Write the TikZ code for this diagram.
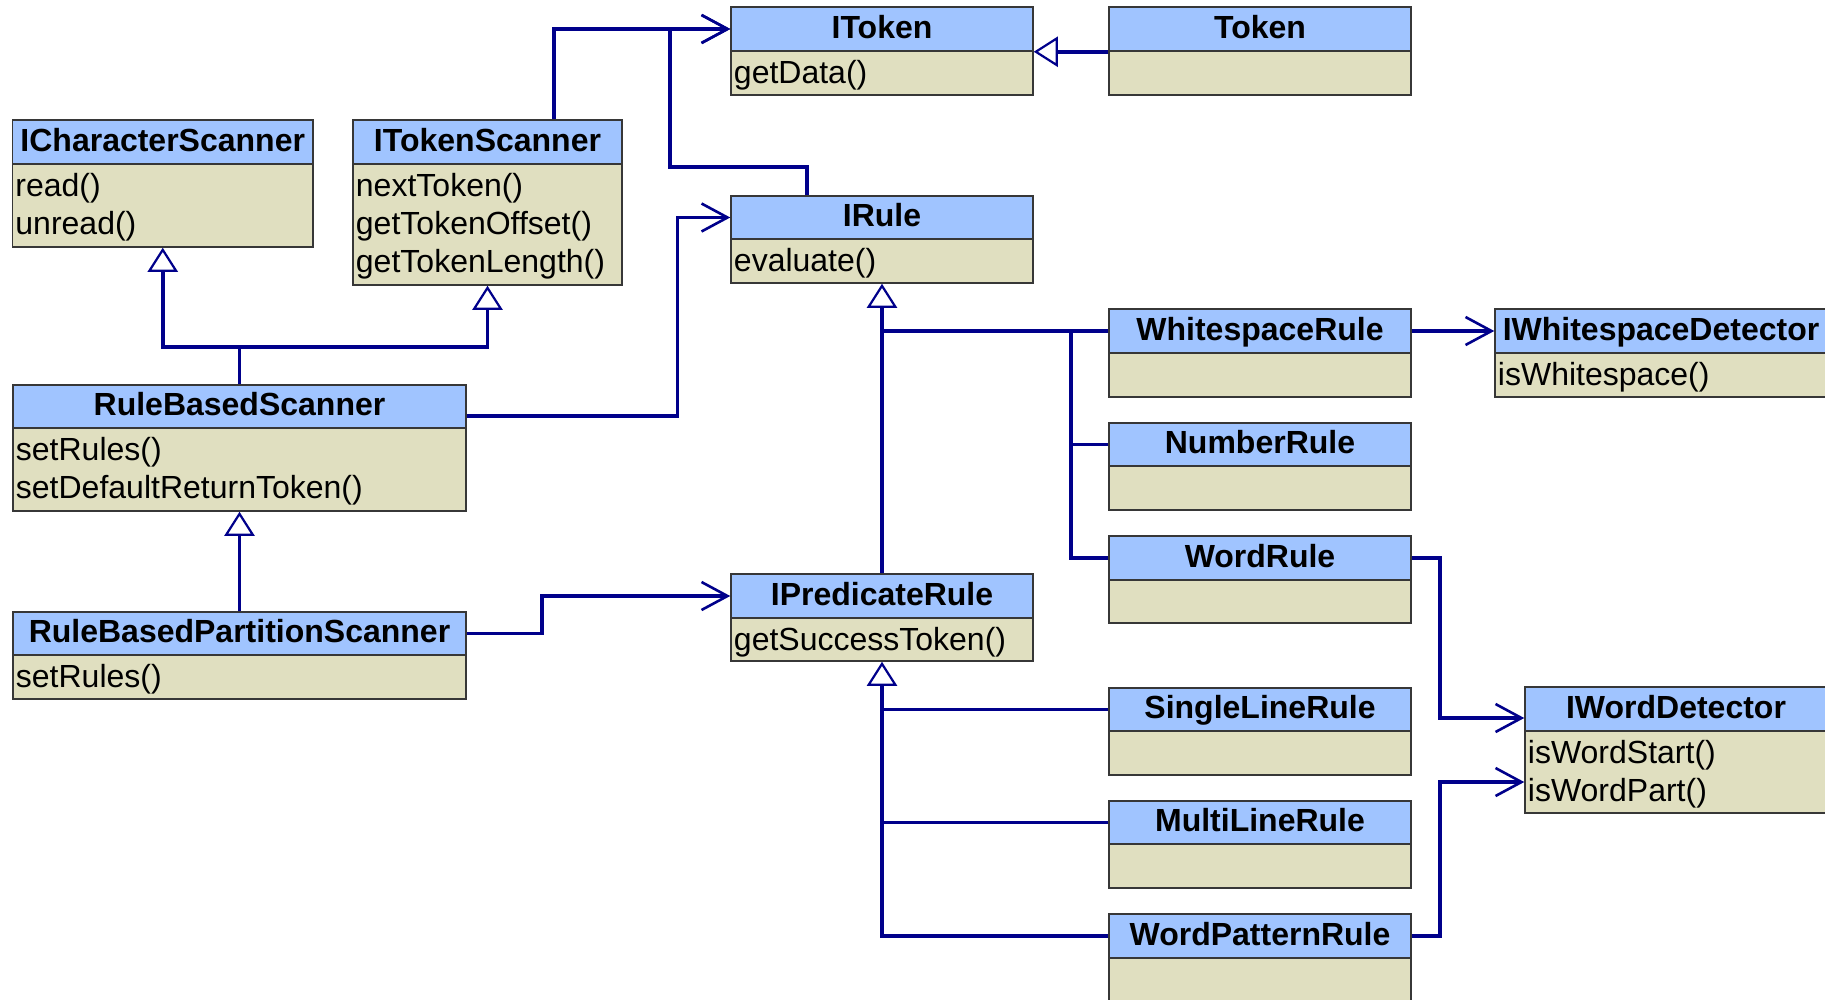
\documentclass[tikz,border=0pt]{standalone}
\usepackage{fontspec}
\setmainfont{Liberation Sans}
\usetikzlibrary{arrows.meta}
\definecolor{hdrblue}{RGB}{160,196,255}
\definecolor{bodybeige}{RGB}{224,223,192}
\definecolor{edgegray}{RGB}{55,55,55}
\definecolor{linkblue}{RGB}{0,0,139}
\tikzset{
 hdr/.style={draw=edgegray, line width=1.5pt, fill=hdrblue, inner sep=0pt,
   font=\fontsize{32}{38}\selectfont\bfseries, text height=23pt, text depth=5pt},
 bdy/.style={draw=edgegray, line width=1.5pt, fill=bodybeige, inner sep=0pt},
 meth/.style={inner sep=0pt, font=\fontsize{32}{38}\selectfont, anchor=base west},
 conn/.style={draw=linkblue, line width=3.5pt},
 inh/.style={conn, -{Triangle[open, fill=white, length=24pt, width=30pt, line width=2.2pt]}},
 assoc/.style={conn, -{Straight Barb[length=26pt, width=28pt, line width=2.6pt]}},
}
% name, x1, y1, x2, yh, y2, title, methods
\newcommand\umlclass[8]{%
 \node[hdr, minimum width={(#4-#2)*1pt}, minimum height={(#5-#3)*1pt}] (#1) at ({(#2+#4)/2},{(#3+#5)/2}) {#7};
 \node[bdy, minimum width={(#4-#2)*1pt}, minimum height={(#6-#5)*1pt}] (#1-b) at ({(#2+#4)/2},{(#5+#6)/2}) {};
 \foreach \m [count=\i] in {#8} {\node[meth] (#1-m\i) at ([xshift=3.5pt, yshift={-(33+38*(\i-1))*1pt}]#1-b.north west) {\m};}
}
\begin{document}
\begin{tikzpicture}[x=1pt, y=-1pt]
\useasboundingbox (0,0) rectangle (1825,999);
\fill[white] (0,0) rectangle (1825,999);

\umlclass{ics}{12.5}{120}{313}{164}{247}{ICharacterScanner}{read(),unread()}
\umlclass{its}{353}{120}{622}{164}{285}{ITokenScanner}{nextToken(),getTokenOffset(),getTokenLength()}
\umlclass{itoken}{731}{7}{1033}{51}{95}{IToken}{getData()}
\umlclass{tok}{1109}{7}{1411}{51}{95}{Token}{}
\umlclass{irule}{731}{196}{1033}{239}{283}{IRule}{evaluate()}
\umlclass{rbs}{13}{385}{466}{428}{511}{RuleBasedScanner}{setRules(),setDefaultReturnToken()}
\umlclass{rbps}{13}{612}{466}{655}{699}{RuleBasedPartitionScanner}{setRules()}
\umlclass{ipr}{731}{574}{1033}{618}{661}{IPredicateRule}{getSuccessToken()}
\umlclass{wsr}{1109}{309}{1411}{353}{397}{WhitespaceRule}{}
\umlclass{iwsd}{1495}{309}{1827}{353}{397}{IWhitespaceDetector}{isWhitespace()}
\umlclass{nr}{1109}{423}{1411}{466}{510}{NumberRule}{}
\umlclass{wr}{1109}{536}{1411}{580}{623}{WordRule}{}
\umlclass{slr}{1109}{688}{1411}{731}{775}{SingleLineRule}{}
\umlclass{mlr}{1109}{801}{1411}{844}{888}{MultiLineRule}{}
\umlclass{wpr}{1109}{914}{1411}{958}{1003}{WordPatternRule}{}
\umlclass{iwd}{1525}{687}{1827}{731}{813}{IWordDetector}{isWordStart(),isWordPart()}

\coordinate (j1) at (670,167);
\draw[assoc] ([xshift=66.5pt]its.north) |- (itoken.west);
\draw[assoc] ([xshift=-75pt]irule.north) |- (j1) |- (itoken.west);
\draw[inh] (tok.south west) -- (itoken.south east);

\coordinate (j2) at (239.5,347);
\draw[inh] (rbs.north) -- (j2) -| (ics-b.south);
\draw[inh] (j2) -| (its-b.south);

\coordinate (j3) at (677.5,217.5);
\draw[assoc] ([yshift=-9.5pt]rbs.east) -| (j3) -- (irule.west);
\draw[inh] (rbps.north) -- (rbs-b.south);

\coordinate (j4) at (542,596);
\draw[assoc] (rbps.east) -| (j4) -- (ipr.west);
\draw[inh] (ipr.north) -- (irule-b.south);

\coordinate (j5) at (1071,331);
\draw[conn] (wsr.west) -- (wsr.west -| ipr.north);
\draw[conn] (nr.west) -| (j5);
\draw[conn] (wr.west) -| (j5);

\draw[inh] (wpr.west) -| (ipr-b.south);
\draw[conn] (slr.west) -- (slr.west -| ipr-b.south);
\draw[conn] (mlr.west) -- (mlr.west -| ipr-b.south);

\draw[assoc] (wsr.east) -- (iwsd.west);
\coordinate (j6) at (1440,718);
\draw[assoc] (wr.east) -| (j6) -- (j6 -| iwd.west);
\coordinate (j7) at (1440,782);
\draw[assoc] (wpr.east) -| (j7) -- (j7 -| iwd.west);
\end{tikzpicture}
\end{document}
